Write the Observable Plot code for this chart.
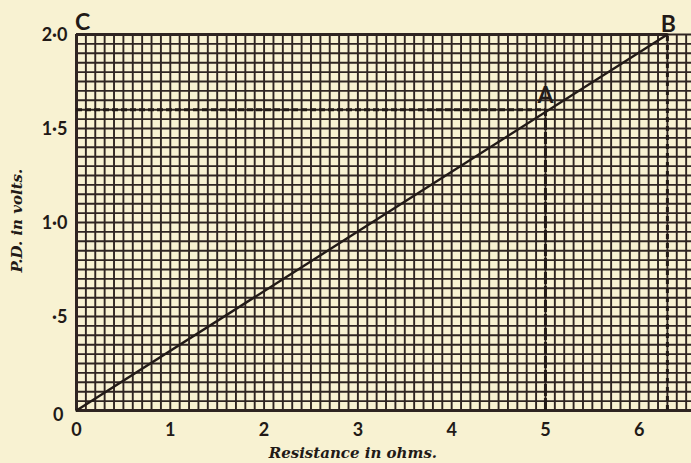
<!DOCTYPE html>
<html>
<head>
<meta charset="utf-8">
<script src="https://cdn.jsdelivr.net/npm/d3@7"></script>
<script src="https://cdn.jsdelivr.net/npm/@observablehq/plot@0.6"></script>
<style>
  html, body { margin: 0; padding: 0; background: #f8f2d2; }
  #chart svg { display: block; background: #f8f2d2; }
</style>
</head>
<body>
<div id="chart"></div>
<script>
// ---- data ----
const xTicks = [0, 1, 2, 3, 4, 5, 6];
const xTickLabels = ["0", "1", "2", "3", "4", "5", "6"];
const yTicks = [0, 0.5, 1.0, 1.5, 2.0];
const yTickLabels = ["0", "·5", "1·0", "1·5", "2·0"];
const lineResistance = [0, 6.3];   // ohms
const lineVoltage = [0, 2.0];      // volts
const pointNames = ["C", "A", "B"];
const pointResistance = [0, 5, 6.3];
const pointVoltage = [2.0, 1.6, 2.0];
const xLabel = "Resistance in ohms.";
const yLabel = "P.D. in volts.";
const xMax = 6.557;                 // visible extent of graph paper
const gridStepX = 0.1;
const gridStepY = 0.05;

// ---- derived tables ----
const ink = "#2f2522";
const xGrid = d3.range(0, Math.floor(xMax / gridStepX) + 1).map(i => +(i * gridStepX).toFixed(2));
const yGrid = d3.range(0, Math.round(2 / gridStepY) + 1).map(i => +(i * gridStepY).toFixed(2));
const lineData = lineResistance.map((r, i) => ({r, v: lineVoltage[i]}));
const points = pointNames.map((name, i) => ({name, r: pointResistance[i], v: pointVoltage[i]}));
const A = points[1], B = points[2];
const xTickData = xTicks.map((t, i) => ({t, label: xTickLabels[i]}));
const yTickData = yTicks.map((t, i) => ({t, label: yTickLabels[i]}));

const tickFont = "Lato, 'Open Sans', sans-serif";
const labelFont = "'DejaVu Serif', 'Liberation Serif', serif";
const letter = (name, dx, dy) => Plot.text(points.filter(p => p.name === name), {
  x: "r", y: "v", text: "name", dx, dy, fontSize: 23, fontWeight: "bold",
  fontFamily: tickFont, fill: "#221a17"});

const chart = Plot.plot({
  width: 691,
  height: 463,
  marginLeft: 76,
  marginRight: 0,
  marginTop: 34,
  marginBottom: 53,
  style: {background: "#f8f2d2", color: ink, overflow: "visible"},
  x: {domain: [0, xMax], axis: null},
  y: {domain: [0, 2], axis: null},
  marks: [
    // graph paper grid
    Plot.ruleX(xGrid, {x: d => d, y1: 0, y2: 2, stroke: ink, strokeWidth: 1.9}),
    Plot.ruleY(yGrid, {y: d => d, stroke: ink, strokeWidth: 1.9}),
    // heavy left and bottom edges
    Plot.ruleX([0], {x: d => d, y1: 0, y2: 2, stroke: ink, strokeWidth: 3}),
    Plot.ruleY([0], {y: d => d, stroke: ink, strokeWidth: 3}),
    Plot.ruleY([2], {y: d => d, x1: 0, x2: B.r, stroke: ink, strokeWidth: 3}),
    // construction lines
    Plot.ruleY([A], {y: "v", x1: 0, x2: "r", stroke: "#221a17", strokeWidth: 3, strokeDasharray: "6,3"}),
    Plot.ruleX([A], {x: "r", y1: 0, y2: "v", stroke: "#221a17", strokeWidth: 3, strokeDasharray: "12,2"}),
    Plot.ruleX([B], {x: "r", y1: 0, y2: "v", stroke: "#221a17", strokeWidth: 3, strokeDasharray: "5,4"}),
    // the graph line
    Plot.line(lineData, {x: "r", y: "v", stroke: "#221a17", strokeWidth: 2.4}),
    // point letters
    letter("C", 6, -12),
    letter("A", 0, -14),
    letter("B", 1, -10),
    // tick labels
    Plot.text(xTickData, {x: "t", text: "label", frameAnchor: "bottom", lineAnchor: "middle", dy: 20,
      fontSize: 18, fontWeight: "bold", fontFamily: tickFont, fill: "#221a17"}),
    Plot.text(yTickData.filter(d => d.t > 0), {y: "t", text: "label", frameAnchor: "left", dx: -9, dy: 1,
      textAnchor: "end", fontSize: 18, fontWeight: "bold", fontFamily: tickFont, fill: "#221a17"}),
    Plot.text(yTickData.filter(d => d.t === 0), {y: "t", text: "label", frameAnchor: "left", dx: -13, dy: 5,
      textAnchor: "end", fontSize: 18, fontWeight: "bold", fontFamily: tickFont, fill: "#221a17"}),
    // axis titles
    Plot.text([xLabel], {x: 3, text: d => d, frameAnchor: "bottom", lineAnchor: "middle", dy: 43, dx: -5,
      fontSize: 15, fontStyle: "italic", fontWeight: "bold", fontFamily: labelFont, fill: "#221a17"}),
    Plot.text([yLabel], {y: 1.01, text: d => d, frameAnchor: "left", textAnchor: "middle", lineAnchor: "middle",
      dx: -59, rotate: -90, fontSize: 15,
      fontStyle: "italic", fontWeight: "bold", fontFamily: labelFont, fill: "#221a17"})
  ]
});
document.getElementById("chart").append(chart);
</script>
</body>
</html>
